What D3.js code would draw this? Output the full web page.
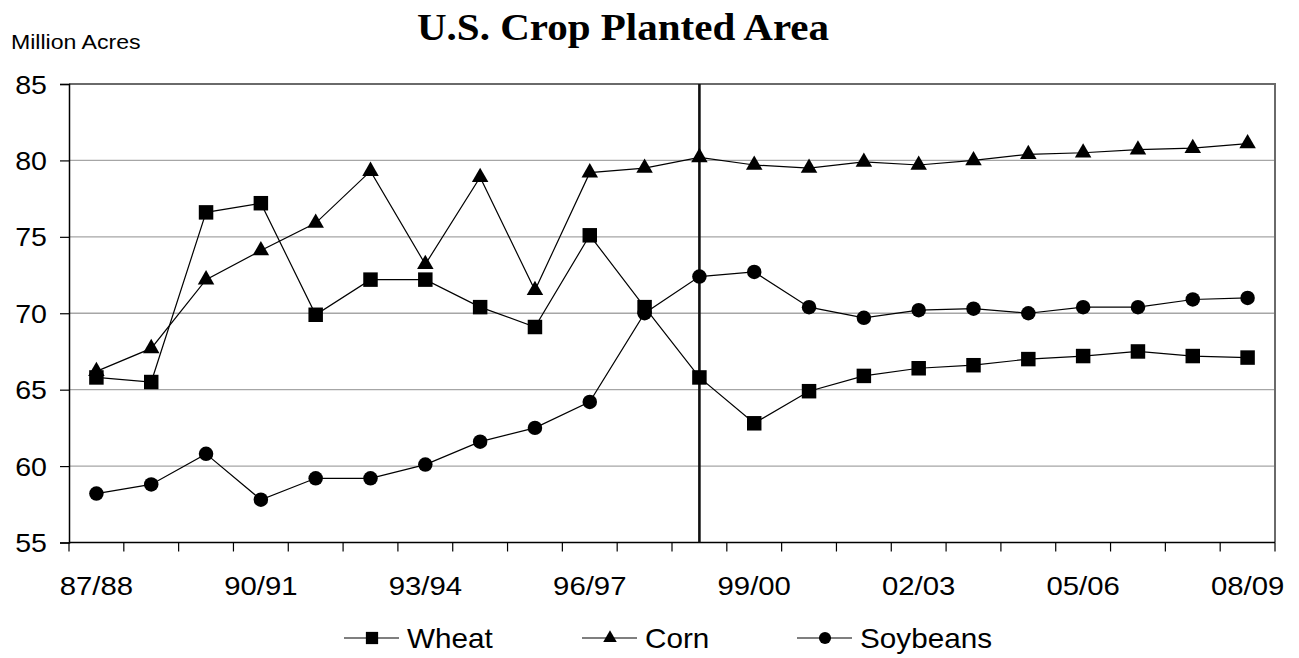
<!DOCTYPE html>
<html>
<head>
<meta charset="utf-8">
<script src="https://cdn.jsdelivr.net/npm/d3@7"></script>
<style>
	body { margin: 0; background: #fff; }
	text { font-family: "Liberation Sans", Arial, sans-serif; fill: #000; }
</style>
</head>
<body>
<svg id="chart" width="1299" height="658"></svg>
<script>

//marketing years on the x axis
var years = ["87/88","88/89","89/90","90/91","91/92","92/93","93/94","94/95","95/96","96/97","97/98",
	"98/99","99/00","00/01","01/02","02/03","03/04","04/05","05/06","06/07","07/08","08/09"];

//planted area, million acres
var wheat = [65.8, 65.5, 76.6, 77.2, 69.9, 72.2, 72.2, 70.4, 69.1, 75.1, 70.4,
	65.8, 62.8, 64.9, 65.9, 66.4, 66.6, 67.0, 67.2, 67.5, 67.2, 67.1];
var corn = [66.2, 67.7, 72.2, 74.1, 75.9, 79.3, 73.2, 78.9, 71.5, 79.2, 79.5,
	80.2, 79.7, 79.5, 79.9, 79.7, 80.0, 80.4, 80.5, 80.7, 80.8, 81.1];
var soybeans = [58.2, 58.8, 60.8, 57.8, 59.2, 59.2, 60.1, 61.6, 62.5, 64.2, 70.0,
	72.4, 72.7, 70.4, 69.7, 70.2, 70.3, 70.0, 70.4, 70.4, 70.9, 71.0];

var seriesNames = ["Wheat", "Corn", "Soybeans"];
var yTicks = [55, 60, 65, 70, 75, 80, 85];
var xLabels = ["87/88","90/91","93/94","96/97","99/00","02/03","05/06","08/09"];
var splitYear = "98/99";	//year marked with the vertical line

var plotLeft = 69, plotRight = 1275, plotTop = 84, plotBottom = 542.5;

var svg = d3.select("#chart");

var x = d3.scaleBand()
	.domain(years)
	.range([plotLeft, plotRight])
	.padding(0);
var bw = x.bandwidth();
function cx(d) { return x(d) + bw / 2; }

var y = d3.scaleLinear()
	.domain([55, 85])
	.range([plotBottom, plotTop]);

//gridlines
svg.append("g")
	.selectAll("line")
	.data(yTicks.filter(function(d){ return d > 55 && d < 85; }))
	.enter().append("line")
	.attr("x1", plotLeft).attr("x2", plotRight)
	.attr("y1", function(d){ return y(d); })
	.attr("y2", function(d){ return y(d); })
	.attr("stroke", "#a6a6a6")
	.attr("stroke-width", 1.3);

//top and right edge of the plot area
svg.append("path")
	.attr("d", "M" + plotLeft + "," + y(85) + "H" + plotRight + "V" + plotBottom)
	.attr("fill", "none")
	.attr("stroke", "#6a6a6a")
	.attr("stroke-width", 2);

//y axis
var yAxis = svg.append("g")
	.attr("transform", "translate(" + plotLeft + ",0)")
	.call(d3.axisLeft(y).tickValues(yTicks).tickSize(9).tickFormat(d3.format("d")));
yAxis.select(".domain").attr("stroke", "#000").attr("stroke-width", 1.5);
yAxis.selectAll(".tick line").attr("stroke", "#000").attr("stroke-width", 1.2);
yAxis.selectAll(".tick text")
	.attr("font-size", 25.5)
	.attr("x", 0).attr("dy", null).attr("y", 9)
	.attr("text-anchor", "end")
	.attr("transform", "translate(-22,0) scale(1.12,1)");

//x axis, ticks sit on the band edges
svg.append("line")
	.attr("x1", plotLeft).attr("x2", plotRight)
	.attr("y1", plotBottom).attr("y2", plotBottom)
	.attr("stroke", "#000").attr("stroke-width", 1.5);
svg.append("g")
	.selectAll("line")
	.data(years.concat(["end"]))
	.enter().append("line")
	.attr("x1", function(d, i){ return plotLeft + i * bw; })
	.attr("x2", function(d, i){ return plotLeft + i * bw; })
	.attr("y1", plotBottom).attr("y2", plotBottom + 9)
	.attr("stroke", "#000").attr("stroke-width", 1.2);
svg.append("g")
	.selectAll("text")
	.data(xLabels)
	.enter().append("text")
	.attr("transform", function(d){ return "translate(" + cx(d) + "," + (plotBottom + 52.5) + ") scale(1.15,1)"; })
	.attr("text-anchor", "middle")
	.attr("font-size", 25.5)
	.text(function(d){ return d; });

//vertical marker line
svg.append("line")
	.attr("x1", cx(splitYear)).attr("x2", cx(splitYear))
	.attr("y1", plotTop).attr("y2", plotBottom)
	.attr("stroke", "#111")
	.attr("stroke-width", 2.6);

//series
var series = [
	{name: seriesNames[0], values: wheat, symbol: d3.symbolSquare, size: 210, legendSize: 150},
	{name: seriesNames[1], values: corn, symbol: d3.symbolTriangle, size: 118, legendSize: 80},
	{name: seriesNames[2], values: soybeans, symbol: d3.symbolCircle, size: 165, legendSize: 115}
];

var line = d3.line()
	.x(function(d, i){ return cx(years[i]); })
	.y(function(d){ return y(d); });

series.forEach(function(s){
	svg.append("path")
		.datum(s.values)
		.attr("d", line)
		.attr("fill", "none")
		.attr("stroke", "#000")
		.attr("stroke-width", 1.2);
	svg.append("g")
		.selectAll("path")
		.data(s.values)
		.enter().append("path")
		.attr("d", d3.symbol().type(s.symbol).size(s.size))
		.attr("transform", function(d, i){ return "translate(" + cx(years[i]) + "," + y(d) + ")"; })
		.attr("fill", "#000");
});

//legend
var legendX = [344, 582, 797];
var legend = svg.append("g")
	.selectAll("g")
	.data(series)
	.enter().append("g")
	.attr("transform", function(d, i){ return "translate(" + legendX[i] + ",638)"; });
legend.append("line")
	.attr("x1", 0).attr("x2", 55)
	.attr("stroke", "#000").attr("stroke-width", 1.2);
legend.append("path")
	.attr("d", function(d){ return d3.symbol().type(d.symbol).size(d.legendSize)(); })
	.attr("transform", "translate(28,0)")
	.attr("fill", "#000");
legend.append("text")
	.attr("transform", "translate(63,10) scale(1.06,1)")
	.attr("font-size", 28)
	.text(function(d){ return d.name; });

//titles
svg.append("text")
	.attr("transform", "translate(623,40) scale(1.08,1)")
	.attr("text-anchor", "middle")
	.style("font-family", "'Liberation Serif', 'Times New Roman', serif")
	.attr("font-weight", "bold")
	.attr("font-size", 38)
	.text("U.S. Crop Planted Area");

svg.append("text")
	.attr("transform", "translate(11,49) scale(1.1,1)")
	.attr("font-size", 21)
	.text("Million Acres");

</script>
</body>
</html>
